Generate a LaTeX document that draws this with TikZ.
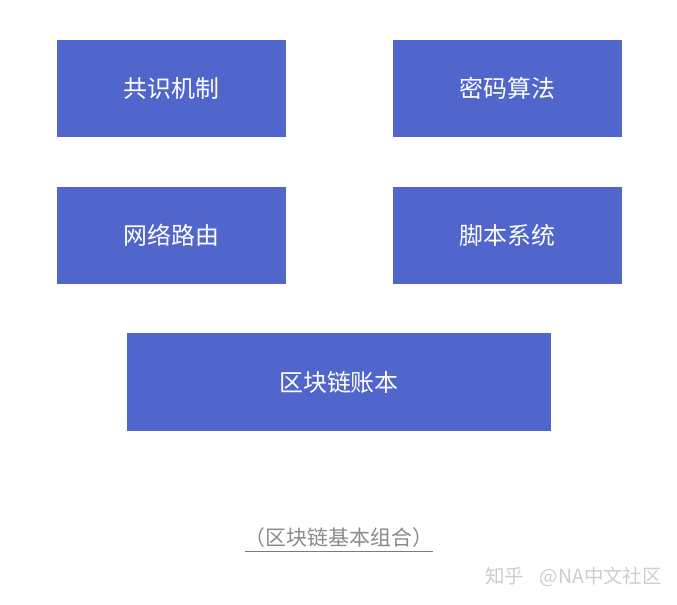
\documentclass[tikz,border=0pt]{standalone}
\usepackage{fontspec}
\setmainfont{Noto Sans CJK SC}
\usetikzlibrary{positioning}
\definecolor{colorblock}{HTML}{5066CC}
\definecolor{colorcap}{HTML}{8A8A8A}
\definecolor{colormark}{HTML}{CDCDCD}
\tikzstyle{block}=[fill=colorblock, text=white, minimum width=229bp, minimum height=97bp, inner sep=0pt, font=\fontsize{24}{24}\selectfont]
\tikzstyle{caption}=[text=colorcap, inner sep=0pt, font=\fontsize{21}{21}\selectfont]

\begin{document}
\begin{tikzpicture}[x=1bp, y=-1bp, node distance=49bp and 106bp]
\useasboundingbox (0,0) rectangle (677,605);
\node[block, anchor=north west] (consensus) at (57,40) {共识机制};
\node[block, right=of consensus] (crypto) {密码算法};
\node[block, below=of consensus] (network) {网络路由};
\node[block, below=of crypto] (script) {脚本系统};
\node[block, minimum width=424bp, minimum height=98bp, anchor=north] (ledger) at (339,333) {区块链账本};

\node[caption] (cap) at (339,538) {（区块链基本组合）};
\draw[colorcap!90!black, line width=1.2bp] ([yshift=-3bp]cap.south west) -- ([yshift=-3bp]cap.south east);

\node[text=colormark, inner sep=0pt, anchor=east, font=\fontsize{19.5}{19.5}\selectfont] (mark) at (662,577) {知乎\hspace{0.8em}@NA中文社区};
\end{tikzpicture}
\end{document}
